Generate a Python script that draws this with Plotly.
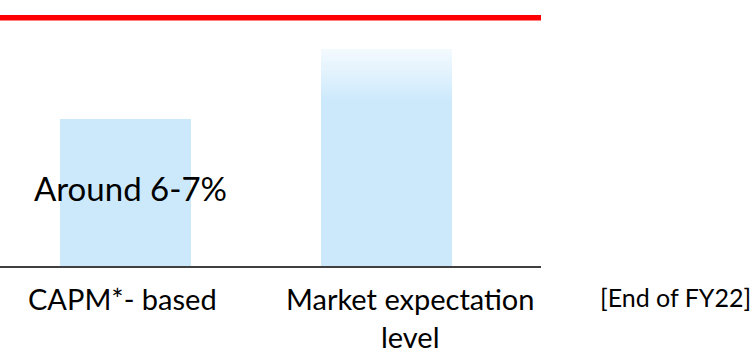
import plotly.graph_objects as go

# ---- data ----
categories = ["CAPM*- based", "Market expectation<br>level"]
values = [6.5, 9.6]          # bar heights (arbitrary % scale)
target_level = 11.0          # red reference line
bar_label = "Around 6-7%"
period_label = "[End of FY22]"

# ---- style ----
FONT = "Lato"
BAR_COLOR = (204, 233, 252)
FADE_TOP = (244, 250, 254)
FADE_FROM = 0.76   # fraction of second bar where the fade starts
N_FADE = 20
BAR_W = 0.502
LABEL_SHIFT = [-3, 24]   # horizontal nudges of the category labels (px)

def rgb(c):
    return "rgb(%d,%d,%d)" % c

fig = go.Figure()

# first bar (solid)
fig.add_trace(go.Bar(x=[categories[0]], y=[values[0]], width=BAR_W,
                     marker=dict(color=rgb(BAR_COLOR), line=dict(width=0)),
                     hoverinfo="skip", showlegend=False))

# second bar: solid lower part + faded top made of stacked slices
v2 = values[1]
fig.add_trace(go.Bar(x=[categories[1]], y=[v2 * FADE_FROM], width=BAR_W,
                     marker=dict(color=rgb(BAR_COLOR), line=dict(width=0)),
                     hoverinfo="skip", showlegend=False))
seg = v2 * (1 - FADE_FROM) / N_FADE
for i in range(N_FADE):
    t = (i + 0.5) / N_FADE
    col = tuple(round(BAR_COLOR[k] + (FADE_TOP[k] - BAR_COLOR[k]) * t) for k in range(3))
    fig.add_trace(go.Bar(x=[categories[1]], y=[seg * 1.02], base=[v2 * FADE_FROM + i * seg],
                         width=BAR_W, marker=dict(color=rgb(col), line=dict(width=0)),
                         hoverinfo="skip", showlegend=False))

# red reference line
fig.add_shape(type="line", xref="x domain", x0=0, x1=1, yref="y",
              y0=target_level, y1=target_level, line=dict(color="#FF0000", width=5.5))

fig.add_annotation(x=categories[0], y=3.45, xref="x", yref="y", text=bar_label,
                   showarrow=False, xshift=5, yanchor="middle",
                   font=dict(family=FONT, size=33, color="#000000"))

# category labels
for cat, dx in zip(categories, LABEL_SHIFT):
    fig.add_annotation(x=cat, y=0, xref="x", yref="paper", text=cat,
                       showarrow=False, xanchor="center", yanchor="top", align="center",
                       xshift=dx, yshift=-14, borderpad=0,
                       font=dict(family=FONT, size=29, color="#000000"))

fig.add_annotation(x=1.2477, y=0, xref="paper", yref="paper", text=period_label,
                   showarrow=False, xanchor="center", yanchor="top", yshift=-15, borderpad=0,
                   font=dict(family=FONT, size=25, color="#000000"))

fig.update_layout(
    width=751, height=355,
    margin=dict(l=0, r=210, t=0, b=89),
    paper_bgcolor="white", plot_bgcolor="white",
    barmode="overlay", bargap=0,
    showlegend=False,
    xaxis=dict(type="category", range=[-0.481, 1.593], showgrid=False, zeroline=False,
               showline=True, linecolor="#404040", linewidth=2, ticks="",
               showticklabels=False, automargin=False, fixedrange=True),
    yaxis=dict(range=[0, 11.79], visible=False, fixedrange=True),
)

fig.write_html("out.html", config={"displayModeBar": False},
               post_script="document.body.style.margin='0';document.body.style.overflow='hidden';")
